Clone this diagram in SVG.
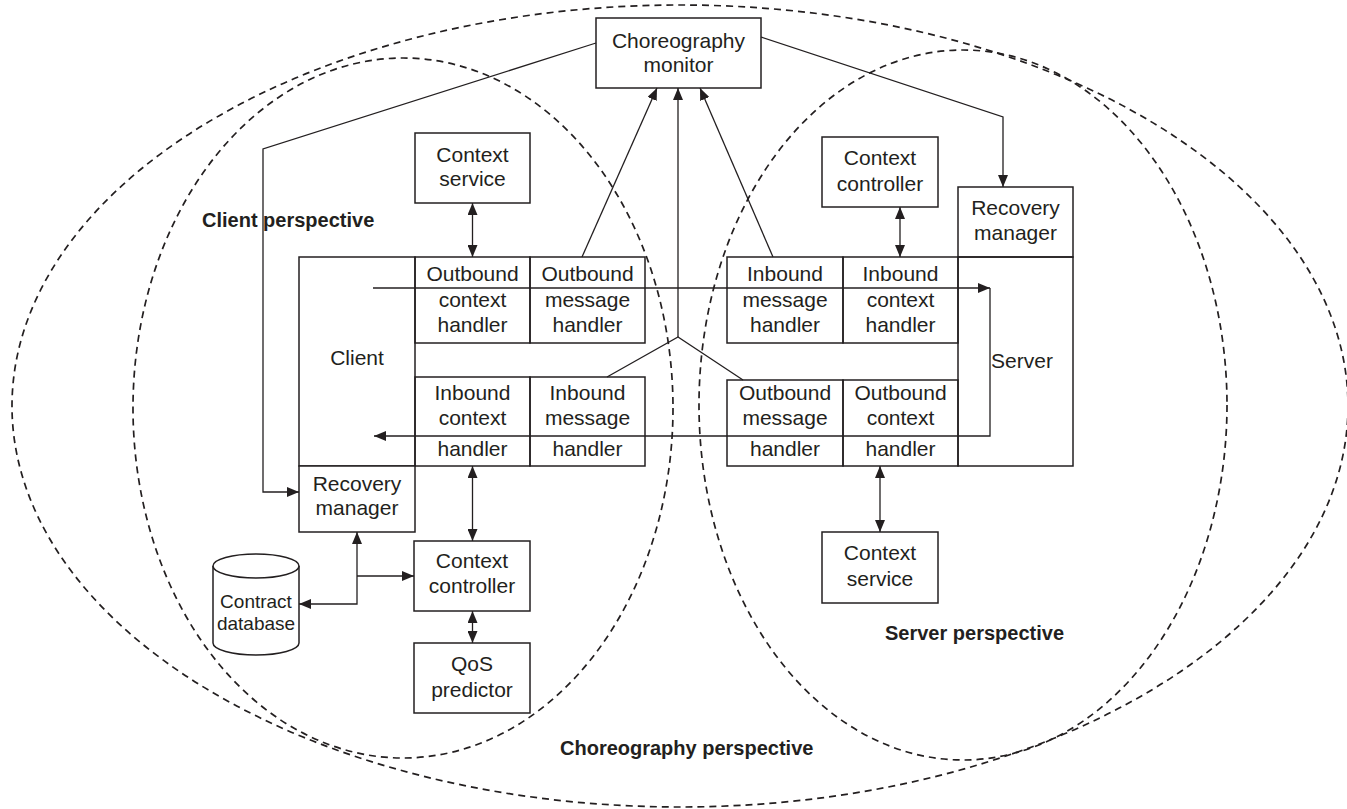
<svg xmlns="http://www.w3.org/2000/svg" width="1347" height="809" viewBox="0 0 1347 809">
<defs>
<style>
.bx{fill:#fff;stroke:#231f20;stroke-width:1.5}
.fr{fill:none;stroke:#231f20;stroke-width:1.5}
.ln{fill:none;stroke:#231f20;stroke-width:1.3}
.ds{fill:none;stroke:#231f20;stroke-width:1.7;stroke-dasharray:7 5}
.t{font-family:"Liberation Sans",Arial,sans-serif;font-size:21px;fill:#231f20;text-anchor:middle}
.s{font-size:19px}
.b{font-family:"Liberation Sans",Arial,sans-serif;font-size:20px;font-weight:bold;fill:#231f20}
</style>
<marker id="ah" viewBox="0 0 12 10" refX="12" refY="5" markerWidth="12" markerHeight="10" markerUnits="userSpaceOnUse" orient="auto-start-reverse">
<path d="M0,0 L12,5 L0,10 z" fill="#231f20"/>
</marker>
</defs>
<rect width="1347" height="809" fill="#fff"/>

<g id="perspectives">
<ellipse id="choreography-perspective" class="ds" cx="680" cy="406" rx="668" ry="401"/>
<ellipse id="client-perspective" class="ds" cx="403" cy="408" rx="270" ry="350"/>
<ellipse id="server-perspective" class="ds" cx="963" cy="405" rx="264" ry="355"/>
<text class="b" x="202" y="227">Client perspective</text>
<text class="b" x="885" y="640">Server perspective</text>
<text class="b" x="560" y="755">Choreography perspective</text>
</g>

<g id="choreography-monitor">
<rect class="bx" x="596" y="18" width="165" height="70"/>
<text class="t" x="678.5" y="48">Choreography</text>
<text class="t" x="678.5" y="72">monitor</text>
</g>

<g id="client-context-service">
<rect class="bx" x="415" y="133" width="115" height="70"/>
<text class="t" x="472.5" y="162">Context</text>
<text class="t" x="472.5" y="186">service</text>
</g>

<g id="server-context-controller">
<rect class="bx" x="822" y="137" width="116" height="70"/>
<text class="t" x="880" y="165">Context</text>
<text class="t" x="880" y="191">controller</text>
</g>

<g id="server-recovery-manager">
<rect class="bx" x="958" y="187" width="115" height="70"/>
<text class="t" x="1015.5" y="215">Recovery</text>
<text class="t" x="1015.5" y="240">manager</text>
</g>

<g id="client">
<rect class="fr" x="299" y="257" width="116" height="209"/>
<text class="t" x="357" y="365">Client</text>
</g>

<g id="server">
<rect class="fr" x="958" y="257" width="115" height="209"/>
<text class="t" x="1022" y="368">Server</text>
</g>

<g id="outbound-context-handler">
<rect class="fr" x="415" y="257" width="115" height="86"/>
<text class="t" x="472.5" y="281">Outbound</text>
<text class="t" x="472.5" y="307">context</text>
<text class="t" x="472.5" y="332">handler</text>
</g>
<g id="outbound-message-handler">
<rect class="fr" x="530" y="257" width="115" height="86"/>
<text class="t" x="587.5" y="281">Outbound</text>
<text class="t" x="587.5" y="307">message</text>
<text class="t" x="587.5" y="332">handler</text>
</g>
<g id="client-inbound-context-handler">
<rect class="fr" x="415" y="377" width="115" height="89"/>
<text class="t" x="472.5" y="400">Inbound</text>
<text class="t" x="472.5" y="425">context</text>
<text class="t" x="472.5" y="456">handler</text>
</g>
<g id="client-inbound-message-handler">
<rect class="fr" x="530" y="377" width="115" height="89"/>
<text class="t" x="587.5" y="400">Inbound</text>
<text class="t" x="587.5" y="425">message</text>
<text class="t" x="587.5" y="456">handler</text>
</g>

<g id="server-inbound-message-handler">
<rect class="fr" x="727" y="257" width="116" height="86"/>
<text class="t" x="785" y="281">Inbound</text>
<text class="t" x="785" y="307">message</text>
<text class="t" x="785" y="332">handler</text>
</g>
<g id="server-inbound-context-handler">
<rect class="fr" x="843" y="257" width="115" height="86"/>
<text class="t" x="900.5" y="281">Inbound</text>
<text class="t" x="900.5" y="307">context</text>
<text class="t" x="900.5" y="332">handler</text>
</g>
<g id="server-outbound-message-handler">
<rect class="fr" x="727" y="380" width="116" height="86"/>
<text class="t" x="785" y="400">Outbound</text>
<text class="t" x="785" y="425">message</text>
<text class="t" x="785" y="456">handler</text>
</g>
<g id="server-outbound-context-handler">
<rect class="fr" x="843" y="380" width="115" height="86"/>
<text class="t" x="900.5" y="400">Outbound</text>
<text class="t" x="900.5" y="425">context</text>
<text class="t" x="900.5" y="456">handler</text>
</g>

<g id="client-recovery-manager">
<rect class="bx" x="299" y="466" width="116" height="66"/>
<text class="t" x="357" y="491">Recovery</text>
<text class="t" x="357" y="515">manager</text>
</g>

<g id="client-context-controller">
<rect class="bx" x="414" y="541" width="116" height="70"/>
<text class="t" x="472" y="568">Context</text>
<text class="t" x="472" y="593">controller</text>
</g>

<g id="qos-predictor">
<rect class="bx" x="414" y="643" width="116" height="70"/>
<text class="t" x="472" y="671">QoS</text>
<text class="t" x="472" y="697">predictor</text>
</g>

<g id="contract-database">
<path class="bx" d="M213,566 L213,643 A43,12 0 0 0 299,643 L299,566"/>
<ellipse class="bx" cx="256" cy="566" rx="43" ry="12"/>
<text class="t s" x="256" y="608">Contract</text>
<text class="t s" x="256" y="630">database</text>
</g>

<g id="server-context-service">
<rect class="bx" x="822" y="532" width="116" height="71"/>
<text class="t" x="880" y="560">Context</text>
<text class="t" x="880" y="586">service</text>
</g>

<g id="connectors">
<polyline class="ln" points="596,43 263,149 263,492 299,492" marker-end="url(#ah)"/>
<polyline class="ln" points="761,37 1003,117 1003,187" marker-end="url(#ah)"/>
<line class="ln" x1="582" y1="257" x2="657" y2="88" marker-end="url(#ah)"/>
<line class="ln" x1="773" y1="257" x2="700" y2="88" marker-end="url(#ah)"/>
<line class="ln" x1="678" y1="337" x2="678" y2="88" marker-end="url(#ah)"/>
<polyline class="ln" points="607,377 678,337 743,380"/>
<line class="ln" x1="472.5" y1="203" x2="472.5" y2="257" marker-start="url(#ah)" marker-end="url(#ah)"/>
<line class="ln" x1="900" y1="207" x2="900" y2="257" marker-start="url(#ah)" marker-end="url(#ah)"/>
<line class="ln" x1="373" y1="288" x2="990" y2="288" marker-end="url(#ah)"/>
<polyline class="ln" points="990,288 990,436 374,436" marker-end="url(#ah)"/>
<line class="ln" x1="472.5" y1="466" x2="472.5" y2="541" marker-start="url(#ah)" marker-end="url(#ah)"/>
<line class="ln" x1="472.5" y1="611" x2="472.5" y2="643" marker-start="url(#ah)" marker-end="url(#ah)"/>
<line class="ln" x1="880" y1="466" x2="880" y2="532" marker-start="url(#ah)" marker-end="url(#ah)"/>
<polyline class="ln" points="357,532 357,604 299,604" marker-start="url(#ah)" marker-end="url(#ah)"/>
<line class="ln" x1="357" y1="576" x2="414" y2="576" marker-end="url(#ah)"/>
</g>
</svg>
